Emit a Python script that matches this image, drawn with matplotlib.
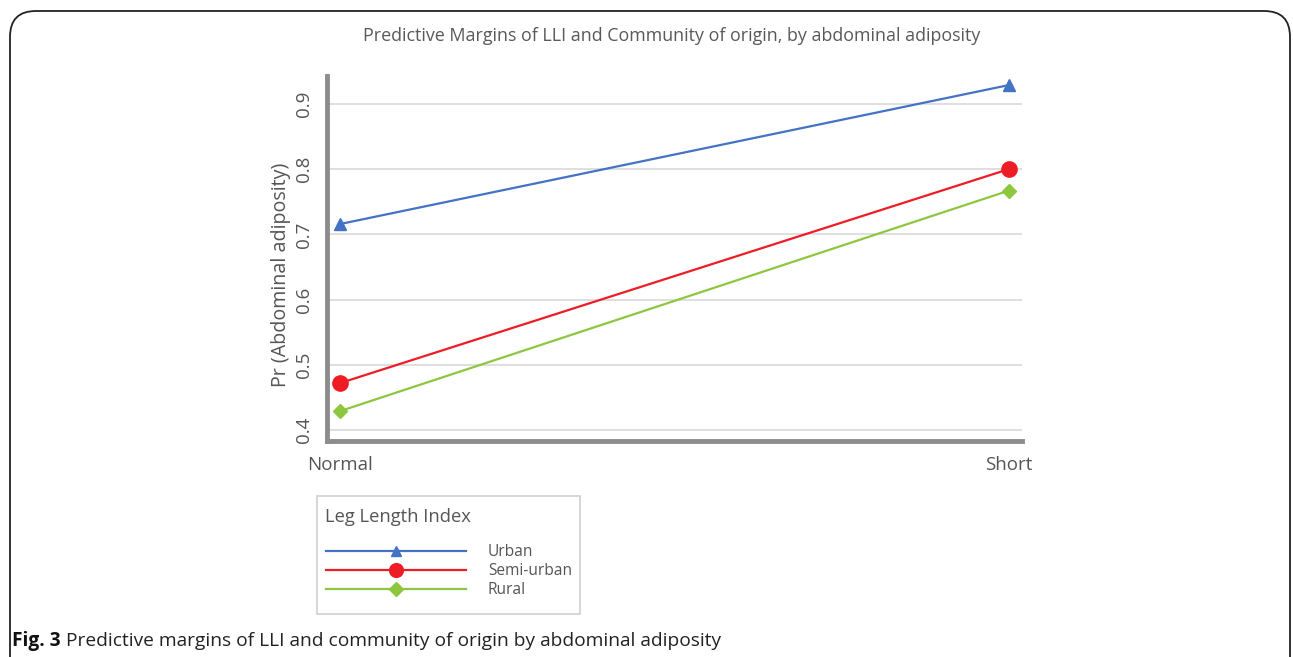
import matplotlib
matplotlib.use("Agg")
import matplotlib.pyplot as plt
from matplotlib.lines import Line2D
from matplotlib.patches import FancyBboxPatch, Rectangle

plt.rcParams["font.family"] = ["Open Sans", "DejaVu Sans"]

# data
lli = ["Normal", "Short"]
groups = ["Urban", "Semi-urban", "Rural"]
urban = [0.716, 0.929]
semi_urban = [0.472, 0.800]
rural = [0.429, 0.767]
yticks = [0.4, 0.5, 0.6, 0.7, 0.8, 0.9]

colors = ["#4472C4", "#EE1C25", "#8DC63F"]
markers = ["^", "o", "D"]
msizes = [8, 11, 7.5]

W, H = 1293, 657
fig = plt.figure(figsize=(W / 100, H / 100), dpi=100)


def fx(px):
    return px / W


def fy(py):
    return 1 - py / H


# outer rounded frame of the figure panel
frame = FancyBboxPatch((fx(10), fy(700)), fx(1280), fy(11) - fy(700),
                       boxstyle="round,pad=0,rounding_size=0.02",
                       transform=fig.transFigure, fill=False,
                       edgecolor="#222222", linewidth=1.3, mutation_aspect=W / H)
fig.patches.append(frame)

ax = fig.add_axes([fx(327), fy(441), fx(1022) - fx(327), fy(76) - fy(441)])
xs = range(len(lli))
for vals, c, m, ms in zip([urban, semi_urban, rural], colors, markers, msizes):
    ax.plot(xs, vals, color=c, lw=1.6, marker=m, markersize=ms,
            markeredgecolor=c, zorder=3)

ax.set_xlim(-0.02, 1.02)
ax.set_ylim(0.383, 0.943)
ax.set_yticks(yticks)
ax.set_yticklabels([f"{v:.1f}" for v in yticks], rotation=90, va="center")
ax.set_xticks(list(xs))
ax.set_xticklabels(lli)
ax.grid(axis="y", color="#D9D9D9", lw=1.2)
ax.set_axisbelow(True)
for s in ["top", "right"]:
    ax.spines[s].set_visible(False)
for s in ["left", "bottom"]:
    ax.spines[s].set_color("#8C8C8C")
    ax.spines[s].set_linewidth(3.5)
ax.tick_params(axis="both", length=0, labelsize=13.5, colors="#555555")
ax.tick_params(axis="x", pad=11)
ax.tick_params(axis="y", pad=10)

# y label placed directly so it sits close to the tick labels
fig.text(fx(281), fy(275), "Pr (Abdominal adiposity)", rotation=90,
         ha="center", va="center", fontsize=14.2, color="#555555")

fig.text(fx(672), fy(36), "Predictive Margins of LLI and Community of origin, by abdominal adiposity",
         ha="center", va="center", fontsize=12.9, color="#595959")

# legend box
fig.patches.append(Rectangle((fx(317), fy(614)), fx(580) - fx(317), fy(496) - fy(614),
                             transform=fig.transFigure, fill=False,
                             edgecolor="#D0D0D0", lw=1.2))
fig.text(fx(325), fy(517), "Leg Length Index", ha="left", va="center",
         fontsize=13.2, color="#555555")
handles = [Line2D([0], [0], color=c, lw=1.6, marker=m, markersize=ms * 0.9,
                  markeredgecolor=c) for c, m, ms in zip(colors, markers, msizes)]
leg = fig.legend(handles, groups, loc="upper left",
                 bbox_to_anchor=(fx(326), fy(544)), frameon=False,
                 fontsize=11.2, handlelength=9.0, handletextpad=1.4,
                 labelspacing=0.2, borderaxespad=0, borderpad=0)
for t in leg.get_texts():
    t.set_color("#555555")

# caption
fig.canvas.draw()
bold = fig.text(fx(12), fy(641), "Fig. 3", ha="left", va="center",
                fontsize=13.8, fontweight="bold", color="#111111")
bb = bold.get_window_extent(fig.canvas.get_renderer())
fig.text(bb.x1 / W + fx(5), fy(641), "Predictive margins of LLI and community of origin by abdominal adiposity",
         ha="left", va="center", fontsize=13.8, color="#222222")

fig.savefig("out.png", dpi=100)
